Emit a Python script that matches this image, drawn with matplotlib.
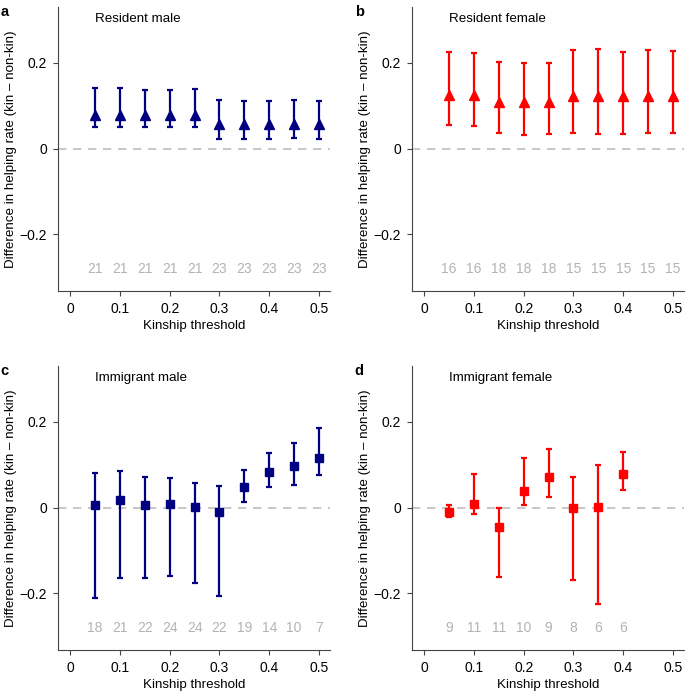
import numpy as np
import matplotlib.pyplot as plt

plt.rcParams['font.family'] = ['Liberation Sans', 'DejaVu Sans']

# kinship thresholds
thresholds = [0.05, 0.10, 0.15, 0.20, 0.25, 0.30, 0.35, 0.40, 0.45, 0.50]

# a: resident male
rm_mean = [0.077, 0.077, 0.077, 0.077, 0.077, 0.057, 0.057, 0.057, 0.057, 0.057]
rm_low = [0.050, 0.050, 0.050, 0.050, 0.049, 0.023, 0.023, 0.023, 0.024, 0.023]
rm_high = [0.140, 0.141, 0.137, 0.136, 0.138, 0.113, 0.111, 0.110, 0.114, 0.111]
rm_n = [21, 21, 21, 21, 21, 23, 23, 23, 23, 23]

# b: resident female
rf_mean = [0.125, 0.125, 0.109, 0.109, 0.109, 0.122, 0.122, 0.122, 0.122, 0.122]
rf_low = [0.054, 0.052, 0.035, 0.031, 0.033, 0.036, 0.034, 0.033, 0.037, 0.035]
rf_high = [0.225, 0.223, 0.202, 0.200, 0.199, 0.229, 0.233, 0.226, 0.229, 0.228]
rf_n = [16, 16, 18, 18, 18, 15, 15, 15, 15, 15]

# c: immigrant male
im_mean = [0.005, 0.017, 0.007, 0.009, 0.001, -0.010, 0.047, 0.083, 0.096, 0.116]
im_low = [-0.211, -0.165, -0.164, -0.160, -0.175, -0.207, 0.012, 0.047, 0.052, 0.075]
im_high = [0.081, 0.085, 0.071, 0.068, 0.058, 0.051, 0.088, 0.126, 0.150, 0.186]
im_n = [18, 21, 22, 24, 24, 22, 19, 14, 10, 7]

# d: immigrant female (no data above 0.4)
if_x = [0.05, 0.10, 0.15, 0.20, 0.25, 0.30, 0.35, 0.40]
if_mean = [-0.011, 0.008, -0.045, 0.039, 0.070, 0.000, 0.002, 0.078]
if_low = [-0.023, -0.016, -0.162, 0.005, 0.025, -0.169, -0.224, 0.040]
if_high = [0.005, 0.077, 0.000, 0.116, 0.136, 0.072, 0.098, 0.129]
if_n = [9, 11, 11, 10, 9, 8, 6, 6]

navy = '#000080'
red = '#ff0000'

panels = [
    ('a', 'Resident male', thresholds, rm_mean, rm_low, rm_high, rm_n, navy, '^', 7),
    ('b', 'Resident female', thresholds, rf_mean, rf_low, rf_high, rf_n, red, '^', 7),
    ('c', 'Immigrant male', thresholds, im_mean, im_low, im_high, im_n, navy, 's', 5.5),
    ('d', 'Immigrant female', if_x, if_mean, if_low, if_high, if_n, red, 's', 5.5),
]

W, H = 685, 694
fig = plt.figure(figsize=(W / 100, H / 100), dpi=100)

# axes boxes in pixels: left, top
boxes = [(57.7, 7), (411.7, 7), (57.7, 366), (411.7, 366)]
aw, ah = 272.3, 284.3

for (letter, title, x, m, lo, hi, n, col, mk, ms), (lx, ty) in zip(panels, boxes):
    ax = fig.add_axes([lx / W, 1 - (ty + ah) / H, aw / W, ah / H])
    x = np.array(x)
    m = np.array(m)
    err = [m - np.array(lo), np.array(hi) - m]
    ax.axhline(0, color='#bdbdbd', lw=1.2, dashes=(5, 4), zorder=1)
    ax.errorbar(x, m, yerr=err, fmt=mk, color=col, ms=ms, elinewidth=1.6,
                capsize=2.5, capthick=1.6, zorder=3)
    for xi, ni in zip(x, n):
        ax.text(xi, -0.282, str(ni), color='#b3b3b3', fontsize=10,
                ha='center', va='center')
    ax.text(0.05, 0.303, title, fontsize=9.6, ha='left', va='center')
    ax.set_xlim(-0.025, 0.522)
    ax.set_ylim(-0.333, 0.33)
    ax.set_xticks([0, 0.1, 0.2, 0.3, 0.4, 0.5])
    ax.set_xticklabels(['0', '0.1', '0.2', '0.3', '0.4', '0.5'])
    ax.set_yticks([-0.2, 0, 0.2])
    ax.set_yticklabels(['\u22120.2', '0', '0.2'])
    ax.tick_params(labelsize=10, length=3.5, width=0.8, color='#444444', pad=4)
    for s in ['top', 'right']:
        ax.spines[s].set_visible(False)
    for s in ['left', 'bottom']:
        ax.spines[s].set_color('#444444')
        ax.spines[s].set_linewidth(0.8)
    ax.set_xlabel('Kinship threshold', fontsize=9.6, labelpad=3)
    ax.set_ylabel('Difference in helping rate (kin \u2013 non-kin)', fontsize=9.6, labelpad=2)
    fig.text((lx - 57) / W, 1 - (ty - 2) / H, letter, fontsize=10.5,
             fontweight='bold', ha='left', va='top')

fig.savefig('out.png', dpi=100)
